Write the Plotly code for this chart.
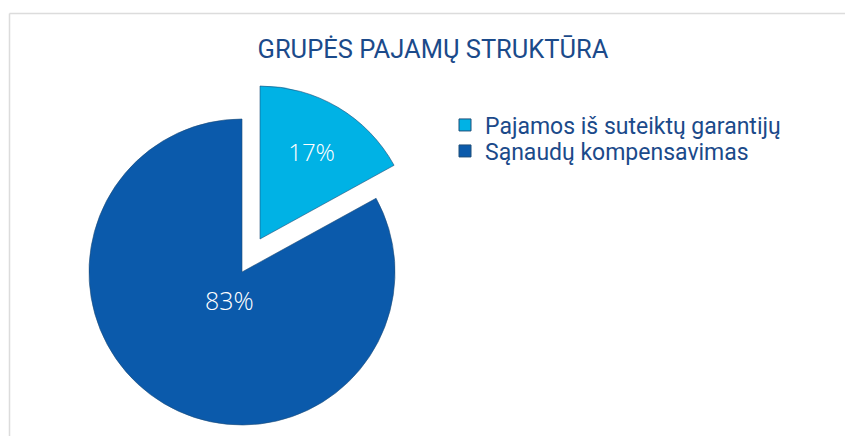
import plotly.graph_objects as go

labels = ["Pajamos iš suteiktų garantijų", "Sąnaudų kompensavimas"]
values = [17, 83]
title_text = "GRUPĖS PAJAMŲ STRUKTŪRA"

LIGHT = "#00B2E5"
DARK = "#0B5AAB"
EDGE = "#1F4E79"
NAVY = "#1B4A8A"
FONT = "Roboto"
W, H = 845, 436


def px(x):
    return x / W


def py(y):
    return 1 - y / H


def dom(cx, cy, r):
    return dict(x=[px(cx - r), px(cx + r)], y=[py(cy + r), py(cy - r)])


common = dict(sort=False, direction="clockwise", rotation=0, hoverinfo="skip",
              textposition="inside", insidetextorientation="horizontal")

fig = go.Figure()
# legend carriers (tiny, hidden under the main slice), one per legend row
fig.add_trace(go.Pie(labels=labels[:1], values=values[:1], **common,
                     marker=dict(colors=[LIGHT], line=dict(color=EDGE, width=1)),
                     domain=dom(200, 350, 1), textinfo="none", showlegend=True, legend="legend"))
fig.add_trace(go.Pie(labels=labels[1:], values=values[1:], **common,
                     marker=dict(colors=[DARK], line=dict(color=EDGE, width=1)),
                     domain=dom(200, 350, 1), textinfo="none", showlegend=True, legend="legend2"))
# main (un-pulled) slice
fig.add_trace(go.Pie(labels=labels, values=values, **common,
                     marker=dict(colors=["rgba(0,0,0,0)", DARK],
                                 line=dict(color=["rgba(0,0,0,0)", EDGE], width=[0, 0.6])),
                     domain=dom(242, 272, 153), textinfo="none", showlegend=False))
# pulled slice
fig.add_trace(go.Pie(labels=labels, values=values, **common,
                     marker=dict(colors=[LIGHT, "rgba(0,0,0,0)"],
                                 line=dict(color=[EDGE, "rgba(0,0,0,0)"], width=[0.6, 0])),
                     domain=dom(260, 239, 153), texttemplate=["%{percent:.0%}", ""],
                     textfont=dict(family="Open Sans", size=24, color="white", weight=300),
                     showlegend=False))

share_main = values[1] / sum(values)
fig.add_annotation(text=f"{share_main:.0%}", x=px(229), y=py(300), xref="paper", yref="paper",
                   showarrow=False, xanchor="center", yanchor="middle",
                   font=dict(family="Open Sans", size=25, color="white", weight=300))

leg = dict(xanchor="left", yanchor="middle", font=dict(family=FONT, size=23, color=NAVY),
           itemwidth=30, bgcolor="rgba(0,0,0,0)")

fig.update_layout(
    width=W, height=H,
    margin=dict(l=0, r=0, t=0, b=0),
    paper_bgcolor="white",
    title=dict(text=title_text, x=px(433), xanchor="center", y=py(49), yanchor="middle",
               yref="container", font=dict(family=FONT, size=25.5, color=NAVY)),
    legend=dict(x=px(445), y=py(125), **leg),
    legend2=dict(x=px(445), y=py(151), **leg),
    shapes=[
        dict(type="line", xref="paper", yref="paper", x0=px(9.5), x1=1.2,
             y0=py(13.5), y1=py(13.5), line=dict(color="#DCDCDC", width=1.5)),
        dict(type="line", xref="paper", yref="paper", x0=px(9.5), x1=px(9.5),
             y0=-0.2, y1=py(13.5), line=dict(color="#DCDCDC", width=1.5)),
    ],
)

fig.write_html("out.html", config={"displayModeBar": False},
               post_script="document.body.style.margin='0';document.body.style.overflow='hidden';")
